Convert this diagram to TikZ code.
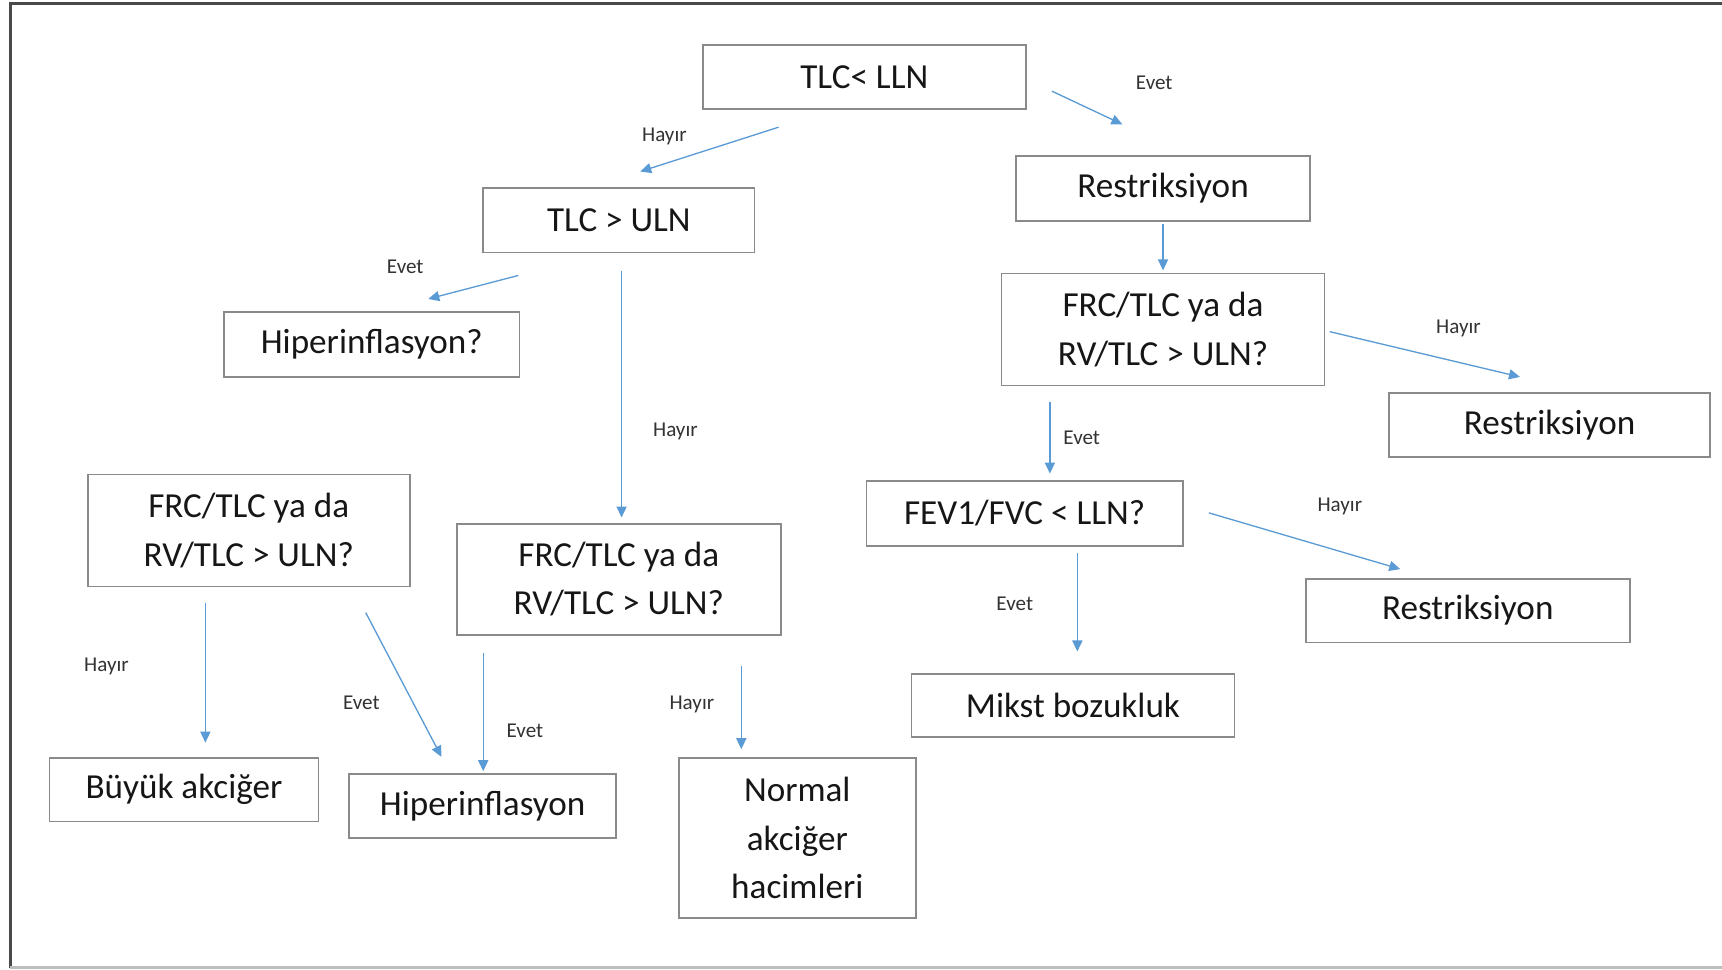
\documentclass[tikz,border=0pt]{standalone}
\usepackage{fontspec}
\setmainfont{Carlito}
\usetikzlibrary{calc,arrows.meta}
\definecolor{arrowblue}{HTML}{5B9BD5}
\definecolor{boxline}{HTML}{8A8A8A}
\definecolor{txt}{HTML}{161616}
\definecolor{lbltxt}{HTML}{333333}
\definecolor{framedark}{HTML}{4A4A4A}
\definecolor{framelight}{HTML}{BDBDBD}
\begin{document}
\begin{tikzpicture}[x=0.5pt,y=-0.5pt,
  box/.style={draw=boxline,line width=0.8pt,fill=white,inner sep=0pt,align=center,
    font=\fontsize{16}{22}\selectfont,text=txt},
  lbl/.style={font=\fontsize{9.6}{11}\selectfont,text=lbltxt,inner sep=0pt},
  arr/.style={draw=arrowblue,line width=0.6pt,-{Triangle[length=5pt,width=4.6pt]}}]
\useasboundingbox (0,0) rectangle (1568,883);
\fill[white] (0,0) rectangle (1568,883);
% outer frame
\draw[line width=1.2pt,framedark] (1568,3) -- (9.5,3) -- (9.5,881);
\draw[line width=1pt,framelight] (9.5,881) -- (1568,881);

% decision and result boxes
\node[box,minimum width=147pt,minimum height=29pt] (tlc) at (787,70) {TLC< LLN};
\node[box,minimum width=123.5pt,minimum height=29.5pt] (tlcu) at (563.5,200.5) {TLC > ULN};
\node[box,minimum width=134pt,minimum height=29.5pt] (restA) at (1059,171.5) {Restriksiyon};
\node[box,minimum width=147pt,minimum height=51pt] (frcR) at (1059,300) {FRC/TLC ya da\\RV/TLC > ULN?};
\node[box,minimum width=134.5pt,minimum height=29.5pt] (hipQ) at (338.5,313.5) {Hiperinflasyon?};
\node[box,minimum width=146pt,minimum height=29pt] (restB) at (1411,387) {Restriksiyon};
\node[box,minimum width=146.5pt,minimum height=51pt] (frcL) at (226.5,483) {FRC/TLC ya da\\RV/TLC > ULN?};
\node[box,minimum width=147.5pt,minimum height=50.5pt] (frcM) at (563.5,527.5) {FRC/TLC ya da\\RV/TLC > ULN?};
\node[box,minimum width=144pt,minimum height=29.5pt] (fev) at (933,467.5) {FEV1/FVC < LLN?};
\node[box,minimum width=147.5pt,minimum height=29pt] (restC) at (1336.5,556) {Restriksiyon};
\node[box,minimum width=147pt,minimum height=28.5pt] (mikst) at (977,642.5) {Mikst bozukluk};
\node[box,minimum width=122.5pt,minimum height=29pt] (buyuk) at (167.5,719) {Büyük akciğer};
\node[box,minimum width=121.5pt,minimum height=29pt] (hiper) at (439.5,734) {Hiperinflasyon};
\node[box,minimum width=108pt,minimum height=73pt] (normal) at (726,763) {Normal\\akciğer\\hacimleri};

% connectors
\draw[arr] ($(tlc.south)+(-78,16)$) -- ($(tlcu.north)+(19.5,-14)$);
\draw[arr] ($(tlc.east)+(23,13)$) -- ($(restA.north)+(-37,-28)$);
\draw[arr] ($(restA.south)+(0,2)$) -- ($(frcR.north)+(0,-2)$);
\draw[arr] ($(tlcu.south)+(-91.5,20)$) -- ($(hipQ.north)+(51.5,-11)$);
\draw[arr] ($(tlcu.south)+(2.5,16)$) -- ($(frcM.north)+(2.5,-5)$);
\draw[arr] ($(frcR.east)+(4,2)$) -- ($(restB.north)+(-27,-14)$);
\draw[arr] ($(frcR.south)+(-103,14)$) -- ($(fev.north)+(23,-6)$);
\draw[arr] ($(fev.east)+(23,-0.5)$) -- ($(restC.north)+(-61.5,-8)$);
\draw[arr] ($(fev.south)+(48,6)$) -- ($(mikst.north)+(4,-20)$);
\draw[arr] ($(frcL.south)+(-39.5,14)$) -- ($(buyuk.north)+(19.5,-13)$);
\draw[arr] ($(frcL.south)+(106.5,23)$) -- ($(hiper.north)+(-37.5,-15)$);
\draw[arr] ($(frcM.south)+(-123.5,16)$) -- ($(hiper.north)+(0.5,-2)$);
\draw[arr] ($(frcM.south)+(111.5,28)$) -- ($(normal.north)+(-51,-7)$);

% branch labels
\node[lbl] (la) at (605,124) {Hayır};
\node[lbl] (lb) at (1051,75) {Evet};
\node[lbl] (ld) at (369,243) {Evet};
\node[lbl] (le) at (615,393) {Hayır};
\node[lbl] (lf) at (1328,299) {Hayır};
\node[lbl] (lg) at (985,399) {Evet};
\node[lbl] (lh) at (1220,461) {Hayır};
\node[lbl] (li) at (924,550) {Evet};
\node[lbl] (lj) at (97,607) {Hayır};
\node[lbl] (lk) at (329,640) {Evet};
\node[lbl] (ll) at (478,665) {Evet};
\node[lbl] (lm) at (630,641) {Hayır};
\end{tikzpicture}
\end{document}
